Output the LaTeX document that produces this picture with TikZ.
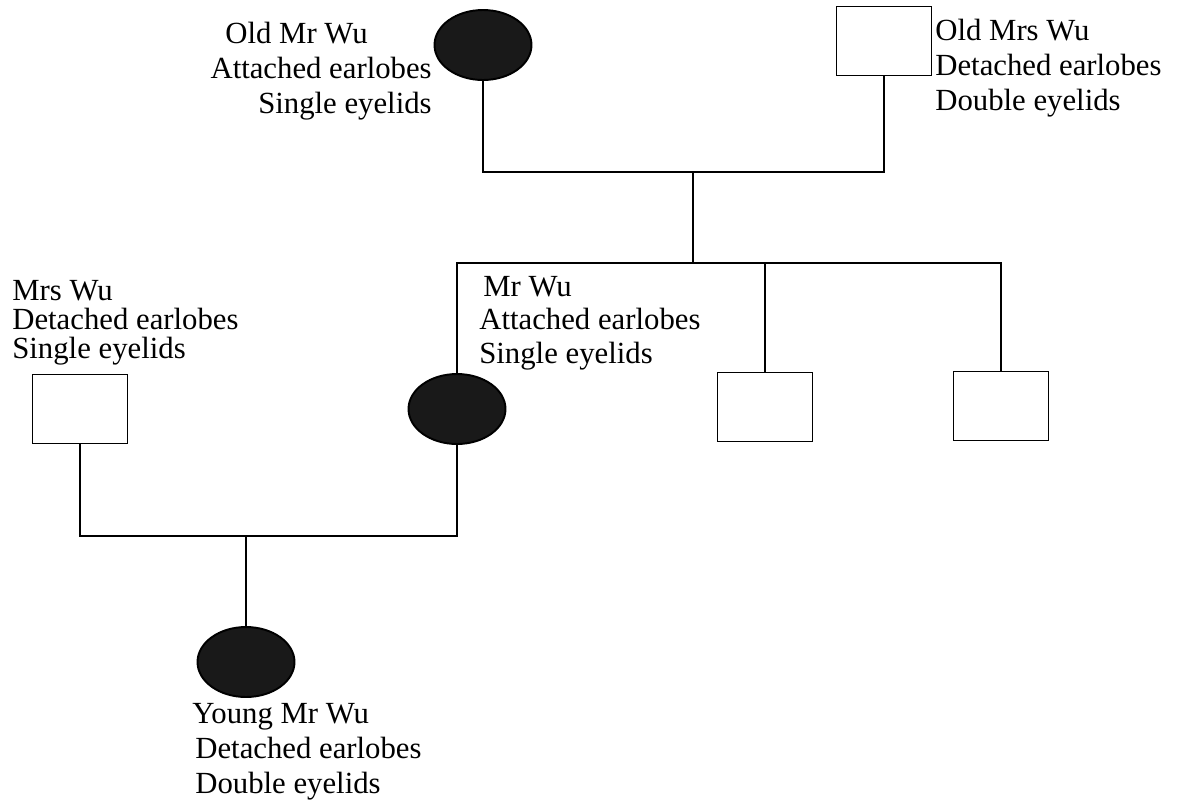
\documentclass[tikz,border=0pt]{standalone}
\usepackage{fontspec}
\setmainfont{Liberation Serif}
\usetikzlibrary{shapes.geometric}
\tikzstyle{dark} = [ellipse, draw, line width=1.1pt, fill=black!90, minimum width=1.94cm, minimum height=1.4cm, inner sep=0pt]
\tikzstyle{box} = [rectangle, draw, line width=1.1pt, minimum width=1.9cm, minimum height=1.38cm, inner sep=0pt]
\tikzstyle{info} = [inner sep=0pt, align=left, font=\fontsize{17.5}{19.8}\selectfont]
\tikzstyle{link} = [line width=1.1pt]

\begin{document}
\begin{tikzpicture}[x=0.02cm, y=-0.02cm]
        \useasboundingbox (0,0) rectangle (1177,802);
        % grandparents
        \node[dark] (oldmr) at (483,45) {};
        \node[box] (oldmrs) at (884,41) {};
        \node[info, align=right, anchor=base east] (oldmrtxt) at (432,113) {Old Mr Wu\hspace*{1.28cm}\\Attached earlobes\\Single eyelids};
        \node[info, anchor=base west] (oldmrstxt) at (935,110) {Old Mrs Wu\\Detached earlobes\\Double eyelids};
        % parents and siblings
        \node[box] (mrs) at (80,409) {};
        \node[dark] (mr) at (457,409) {};
        \node[box] (sib1) at (765,407) {};
        \node[box] (sib2) at (1001,406) {};
        \node[info, anchor=base west, font=\fontsize{17.5}{16.5}\selectfont] (mrstxt) at (12,358) {Mrs Wu\\Detached earlobes\\Single eyelids};
        \node[info, anchor=base west, font=\fontsize{17.5}{19}\selectfont] (mrtxt) at (479,363) {\hspace*{0.08cm}Mr Wu\\Attached earlobes\\Single eyelids};
        % child
        \node[dark] (young) at (246,662) {};
        \node[info, anchor=base west] (youngtxt) at (192,793) {Young Mr Wu\\\hspace*{0.06cm}Detached earlobes\\\hspace*{0.06cm}Double eyelids};
        \coordinate (top) at (693,172);
        \coordinate (bar) at (693,263);
        \coordinate (low) at (246,536);
        \draw[link] (oldmr.south) |- (top) -| (oldmrs.south);
        \draw[link] (top) -- (bar);
        \draw[link] (mr.north) |- (bar) -| (sib2.north);
        \draw[link] (sib1.north |- bar) -- (sib1.north);
        \draw[link] (mrs.south) |- (low) -| (mr.south);
        \draw[link] (low) -- (young.north);
      \end{tikzpicture}
\end{document}
